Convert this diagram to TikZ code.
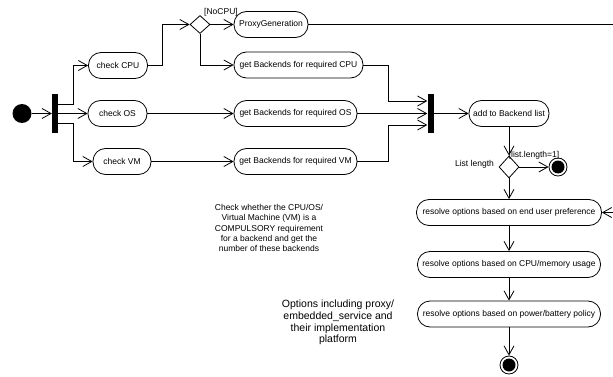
\documentclass[tikz,border=0pt]{standalone}
\usepackage{fontspec}
\setmainfont{Liberation Sans}
\usetikzlibrary{arrows.meta, shapes.geometric}

\tikzset{
  action/.style={rectangle, rounded corners=12.5pt, draw, line width=0.8pt, minimum height=26pt, inner xsep=3pt, font=\fontsize{8.5}{10}\selectfont},
  flow/.style={draw, line width=0.8pt, -{Straight Barb[length=9pt,width=10pt]}},
  bar/.style={fill=black, minimum width=6pt, minimum height=39pt, inner sep=0pt},
  decision/.style={diamond, draw, line width=0.8pt, minimum width=20pt, minimum height=18pt, inner sep=0pt},
  initial/.style={circle, fill=black, minimum size=19pt, inner sep=0pt},
  final/.style={circle, draw, line width=0.8pt, minimum size=18pt, inner sep=0pt,
    path picture={\fill (path picture bounding box.center) circle (6.5pt);}},
  guard/.style={font=\fontsize{8.5}{10}\selectfont, inner sep=1pt},
  note/.style={align=center, inner sep=0pt}
}

\begin{document}
\begin{tikzpicture}[x=1pt, y=-1pt]
\useasboundingbox (0,0) rectangle (613,377);
% fork and the three checks
\node[initial] (start) at (22,113.5) {};
\node[bar] (fork) at (55,113.5) {};
\node[action, minimum width=59pt] (cpu) at (118,65.5) {check CPU};
\node[action, minimum width=59pt] (os) at (117.5,113.5) {check OS};
\node[action, minimum width=58pt] (vm) at (122,161.5) {check VM};
\node[decision] (dec1) at (200,24.5) {};
\node[guard] (nocpu) at (221,12) {[NoCPU]};
\node[action, minimum width=74pt] (proxy) at (271,24.5) {ProxyGeneration};
\node[action, minimum width=129pt] (becpu) at (298.5,65) {get Backends for required CPU};
\node[action, minimum width=123pt] (beos) at (295.5,113.5) {get Backends for required OS};
\node[action, minimum width=123pt] (bevm) at (295.5,161.5) {get Backends for required VM};
% join and the resolving column
\node[bar] (join) at (430.5,113.5) {};
\node[action, minimum width=80pt] (add) at (509,113.5) {add to Backend list};
\node[decision, minimum height=22pt] (dec2) at (509,167) {};
\node[guard] (listlen) at (474.5,164) {List length};
\node[guard] (len1) at (534,155.5) {[list.length=1]};
\node[final] (end1) at (558,167) {};
\node[action, minimum width=185pt] (res1) at (509,212.5) {resolve options based on end user preference};
\node[action, minimum width=183pt] (res2) at (509,264.5) {resolve options based on CPU/memory usage};
\node[action, minimum width=183pt] (res3) at (509,314) {resolve options based on power/battery policy};
\node[final] (end2) at (509,365) {};
\coordinate (offpage) at (625,24.5);
% notes
\node[note, font=\fontsize{8.5}{10.2}\selectfont] (note1) at (269,228) {Check whether the CPU/OS/\\Virtual Machine (VM) is a\\COMPULSORY requirement\\for a backend and get the\\number of these backends};
\node[note, font=\fontsize{10.5}{11.7}\selectfont] (note2) at (338,322.5) {Options including proxy/\\embedded\_service and\\their implementation\\platform};

\draw[flow] (start) -- (fork);
\draw[flow] ([yshift=9.5pt]fork.east) -- ++(15,0) |- (cpu);
\draw[flow] (fork) -- (os);
\draw[flow] ([yshift=-9.5pt]fork.east) -- ++(15,0) |- (vm);
\draw[flow] (cpu.east) -- ++(14,0) |- (dec1);
\draw[flow] (dec1) -- (proxy);
\draw[flow] (dec1) |- (becpu);
\draw[flow] (os) -- (beos);
\draw[flow] (vm) -- (bevm);
\draw[flow] (proxy) -- (offpage) |- (res1);
\draw[flow] (becpu.east) -- ++(25,0) |- ([yshift=12.5pt]join.west);
\draw[flow] (beos) -- (join);
\draw[flow] (bevm.east) -- ++(31,0) |- ([yshift=-11.5pt]join.west);
\draw[flow] (join) -- (add);
\draw[flow] (add) -- (dec2);
\draw[flow] (dec2) -- (end1);
\foreach \a/\b in {dec2/res1, res1/res2, res2/res3, res3/end2} {
\draw[flow] (\a) -- (\b);
}
\end{tikzpicture}
\end{document}
